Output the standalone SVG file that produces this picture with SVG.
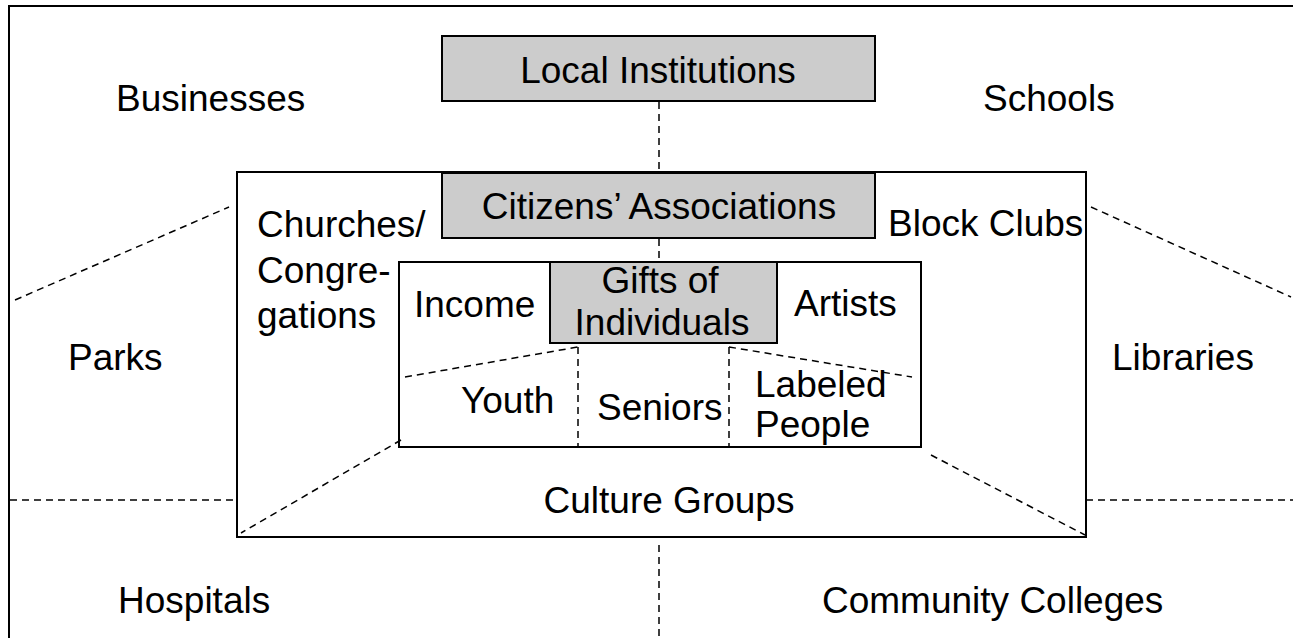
<svg xmlns="http://www.w3.org/2000/svg" width="1293" height="638" viewBox="0 0 1293 638">
  <style>
    .lbl { font-family: "Liberation Sans", Arial, sans-serif; font-size: 37px; fill: #000; }
    .mid { text-anchor: middle; }
    .frame { fill: none; stroke: #000; stroke-width: 2; }
    .box { fill: #fff; stroke: #000; stroke-width: 2; }
    .gray { fill: #cccccc; stroke: #000; stroke-width: 2; }
    .dash { fill: none; stroke: #000; stroke-width: 1.5; stroke-dasharray: 7 5; }
  </style>
  <rect x="0" y="0" width="1293" height="638" fill="#fff"/>

  <!-- outer frame (open to the right and bottom) -->
  <path class="frame" d="M9,640 V6 H1295"/>

  <!-- community ring -->
  <g id="associations-ring">
    <rect class="box" x="237" y="172" width="849" height="365"/>
  </g>

  <!-- individuals ring -->
  <g id="individuals-ring">
    <rect class="box" x="399" y="262" width="522" height="185"/>
  </g>

  <!-- dashed dividers -->
  <g id="connectors">
    <line class="dash" x1="659" y1="102" x2="659" y2="172"/>
    <line class="dash" x1="659" y1="239" x2="659" y2="262"/>
    <line class="dash" x1="659" y1="545" x2="659" y2="640"/>
    <line class="dash" x1="15" y1="300" x2="229" y2="207"/>
    <line class="dash" x1="1091" y1="207" x2="1291" y2="297"/>
    <line class="dash" x1="10" y1="500" x2="237" y2="500"/>
    <line class="dash" x1="1086" y1="500" x2="1293" y2="500"/>
    <line class="dash" x1="401" y1="440" x2="241" y2="533"/>
    <line class="dash" x1="931" y1="455" x2="1085" y2="535"/>
    <line class="dash" x1="578" y1="347" x2="578" y2="447"/>
    <line class="dash" x1="729" y1="347" x2="729" y2="447"/>
    <line class="dash" x1="405" y1="377" x2="578" y2="347"/>
    <line class="dash" x1="729" y1="347" x2="912" y2="377"/>
  </g>

  <g id="local-institutions">
    <rect class="gray" x="442" y="36" width="433" height="65"/>
    <text class="lbl mid" x="658" y="83">Local Institutions</text>
  </g>

  <g id="citizens-associations">
    <rect class="gray" x="442" y="173" width="433" height="65"/>
    <text class="lbl mid" x="659" y="219">Citizens’ Associations</text>
  </g>

  <g id="gifts-of-individuals">
    <rect class="gray" x="550" y="262" width="227" height="81"/>
    <text class="lbl mid" x="660" y="293">Gifts of</text>
    <text class="lbl mid" x="662" y="335">Individuals</text>
  </g>

  <!-- institutions -->
  <g id="businesses"><text class="lbl" x="116" y="111">Businesses</text></g>
  <g id="schools"><text class="lbl" x="983" y="111">Schools</text></g>
  <g id="parks"><text class="lbl" x="68" y="370">Parks</text></g>
  <g id="libraries"><text class="lbl" x="1112" y="370">Libraries</text></g>
  <g id="hospitals"><text class="lbl" x="118" y="613">Hospitals</text></g>
  <g id="community-colleges"><text class="lbl" x="822" y="613">Community Colleges</text></g>

  <!-- associations -->
  <g id="churches">
    <text class="lbl" x="257" y="237">Churches/</text>
    <text class="lbl" x="257" y="283">Congre-</text>
    <text class="lbl" x="257" y="328">gations</text>
  </g>
  <g id="block-clubs"><text class="lbl" x="888" y="236">Block Clubs</text></g>
  <g id="culture-groups"><text class="lbl mid" x="669" y="513">Culture Groups</text></g>

  <!-- individuals -->
  <g id="income"><text class="lbl" x="414" y="317">Income</text></g>
  <g id="artists"><text class="lbl" x="794" y="316">Artists</text></g>
  <g id="youth"><text class="lbl" x="461" y="413">Youth</text></g>
  <g id="seniors"><text class="lbl" x="597" y="420">Seniors</text></g>
  <g id="labeled-people">
    <text class="lbl" x="755" y="397">Labeled</text>
    <text class="lbl" x="755" y="437">People</text>
  </g>
</svg>
